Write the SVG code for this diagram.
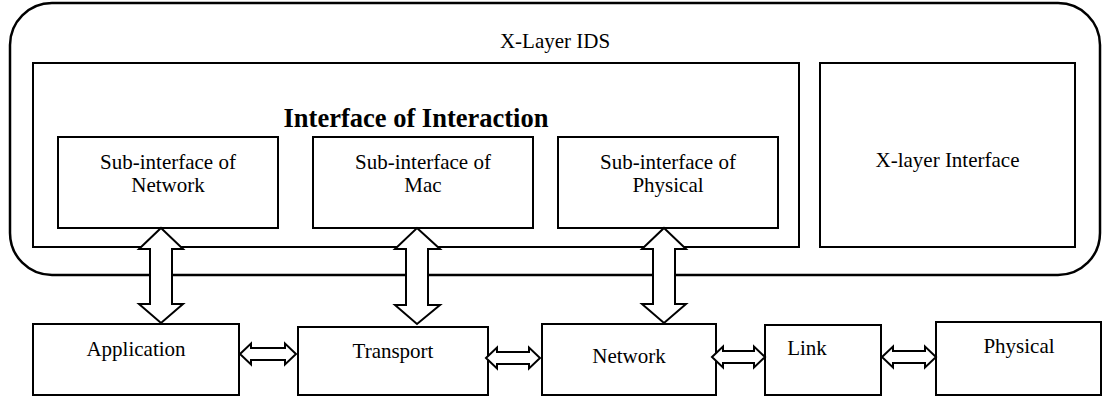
<svg xmlns="http://www.w3.org/2000/svg" width="1104" height="397" viewBox="0 0 1104 397">
<style>
.box{fill:#fff;stroke:#000;stroke-width:2}
.outer{fill:#fff;stroke:#000;stroke-width:2.5}
text{font-family:'Liberation Serif','Times New Roman',Tinos,'DejaVu Serif',serif;fill:#000;text-anchor:middle}
.t{font-size:21px}
.title{font-size:26.5px;font-weight:bold}
.arr{fill:#fff;stroke:#000;stroke-width:2;stroke-linejoin:miter}
</style>
<rect width="1104" height="397" fill="#fff"/>
<g id="xlayer-ids">
<rect class="outer" x="10" y="3" width="1090" height="272" rx="42" ry="42"/>
<text class="t" x="555" y="48" font-family="Liberation Serif, serif">X-Layer IDS</text>
</g>
<g id="interface-of-interaction">
<rect class="box" x="33" y="63" width="766" height="184"/>
<text class="title" x="416" y="127">Interface of Interaction</text>
</g>
<g id="xlayer-interface">
<rect class="box" x="820" y="63" width="255" height="184"/>
<text class="t" x="947.5" y="167">X-layer Interface</text>
</g>
<g id="sub-network">
<rect class="box" x="58" y="137" width="220" height="91"/>
<text class="t" x="168" y="169">Sub-interface of</text>
<text class="t" x="168" y="192">Network</text>
</g>
<g id="sub-mac">
<rect class="box" x="313" y="137" width="220" height="91"/>
<text class="t" x="423" y="169">Sub-interface of</text>
<text class="t" x="423" y="192">Mac</text>
</g>
<g id="sub-physical">
<rect class="box" x="558" y="137" width="220" height="91"/>
<text class="t" x="668" y="169">Sub-interface of</text>
<text class="t" x="668" y="192">Physical</text>
</g>
<g id="application">
<rect class="box" x="33" y="324" width="206" height="71"/>
<text class="t" x="136" y="356">Application</text>
</g>
<g id="transport">
<rect class="box" x="298" y="327" width="190" height="68"/>
<text class="t" x="393" y="358">Transport</text>
</g>
<g id="network">
<rect class="box" x="542" y="324" width="174" height="71"/>
<text class="t" x="629" y="363">Network</text>
</g>
<g id="link">
<rect class="box" x="765" y="325" width="116" height="70"/>
<text class="t" x="807" y="355">Link</text>
</g>
<g id="physical">
<rect class="box" x="936" y="322" width="165" height="73"/>
<text class="t" x="1019" y="353">Physical</text>
</g>
<g id="connectors">
<polygon class="arr" points="161,228 183,249 172,249 172,304 183,304 161,323 139,304 150,304 150,249 139,249"/>
<polygon class="arr" points="417,228 440,249 428,249 428,305 440,305 417,324 395,305 406,305 406,249 395,249"/>
<polygon class="arr" points="664,228 686,249 675,249 675,304 686,304 664,323 642,304 653,304 653,249 642,249"/>
<polygon class="arr" points="240,354 251,343.5 251,348 285,348 285,343.5 296,354 285,364.5 285,360 251,360 251,364.5"/>
<polygon class="arr" points="486,358 497,347.5 497,352 529,352 529,347.5 540,358 529,368.5 529,364 497,364 497,368.5"/>
<polygon class="arr" points="712,357 723,346.5 723,351 754,351 754,346.5 765,357 754,367.5 754,363 723,363 723,367.5"/>
<polygon class="arr" points="882,357 893,346.5 893,351 925,351 925,346.5 936,357 925,367.5 925,363 893,363 893,367.5"/>
</g>
</svg>
